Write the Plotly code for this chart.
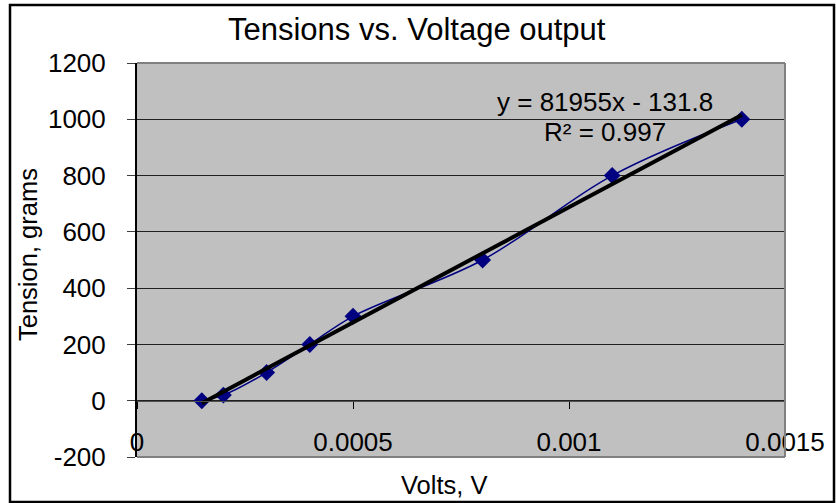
import numpy as np
import plotly.graph_objects as go

# ---- data ----
volts = [0.00015, 0.0002, 0.0003, 0.0004, 0.0005, 0.0008, 0.0011, 0.0014]
tension = [0, 20, 100, 200, 300, 500, 800, 1000]

y_tickvals = [1200, 1000, 800, 600, 400, 200, 0, -200]
y_ticktext = ["1200", "1000", "800", "600", "400", "200", "0", "-200"]
x_tickvals = [0, 0.0005, 0.001, 0.0015]
x_ticktext = ["0", "0.0005", "0.001", "0.0015"]

title_text = "Tensions vs. Voltage output"
x_title = "Volts, V"
y_title = "Tension, grams"
eq_text = "y = 81955x - 131.8"
r2_text = "R² = 0.997"

# linear trendline from the data
slope, intercept = np.polyfit(volts, tension, 1)
trend_x = [min(volts), max(volts)]
trend_y = [slope * v + intercept for v in trend_x]

W, H = 836, 503
L, R, T, B = 137, 785, 63, 457  # plot area in pixels


def px(xp):
    return (xp - L) / (R - L)


def py(yp):
    return (B - yp) / (B - T)


FONT = "Arial, Liberation Sans, sans-serif"

fig = go.Figure()
fig.add_trace(go.Scatter(
    x=volts, y=tension, mode="lines+markers",
    line=dict(color="#000080", width=1.5, shape="spline"),
    marker=dict(symbol="diamond", size=13, color="#000080"),
    cliponaxis=False, showlegend=False,
))
fig.add_trace(go.Scatter(
    x=trend_x, y=trend_y, mode="lines",
    line=dict(color="black", width=4),
    showlegend=False,
))

fig.update_layout(
    width=W, height=H,
    margin=dict(l=L, r=W - R, t=T, b=H - B),
    paper_bgcolor="white", plot_bgcolor="#C0C0C0",
    font=dict(family=FONT, size=26, color="black"),
    showlegend=False,
)

fig.update_xaxes(
    range=[0, 0.0015], tickvals=x_tickvals, ticktext=x_ticktext,
    anchor="free", position=(0 - (-200)) / 1400,
    showgrid=False, zeroline=False,
    showline=True, linecolor="#505050", linewidth=1,
    ticks="outside", ticklen=7, tickcolor="black", tickwidth=1,
    ticklabelstandoff=11,
    tickfont=dict(family=FONT, size=26, color="black"),
)
fig.update_yaxes(
    range=[-200, 1200], tickvals=y_tickvals, ticktext=y_ticktext,
    showgrid=True, gridcolor="#202020", gridwidth=1,
    zeroline=False,
    showline=True, linecolor="black", linewidth=2,
    ticks="outside", ticklen=8, tickcolor="#404040", tickwidth=1,
    ticklabelstandoff=16,
    tickfont=dict(family=FONT, size=26, color="black"),
)

# plot-area border (top, right, bottom)
for x0, y0, x1, y1 in [(0, 1, 1, 1), (1, 0, 1, 1), (0, 0, 1, 0)]:
    fig.add_shape(type="line", xref="x domain", yref="y domain",
                  x0=x0, y0=y0, x1=x1, y1=y1,
                  line=dict(color="#808080", width=2), layer="above")

# chart-area border
fig.add_shape(type="rect", xref="paper", yref="paper",
              x0=px(10), x1=px(834), y0=py(502), y1=py(5),
              line=dict(color="black", width=2.5))

fig.add_annotation(text=title_text, xref="paper", yref="paper",
                   x=px(416.5), y=py(29), xanchor="center", yanchor="middle",
                   showarrow=False, font=dict(family=FONT, size=31, color="black"))
fig.add_annotation(text=x_title, xref="paper", yref="paper",
                   x=px(443.5), y=py(485), xanchor="center", yanchor="middle",
                   showarrow=False, font=dict(family=FONT, size=25.5, color="black"))
fig.add_annotation(text=y_title, xref="paper", yref="paper",
                   x=px(28), y=py(255), xanchor="center", yanchor="middle",
                   textangle=-90,
                   showarrow=False, font=dict(family=FONT, size=25.5, color="black"))
fig.add_annotation(text=eq_text, xref="paper", yref="paper",
                   x=px(604.5), y=py(102), xanchor="center", yanchor="middle",
                   showarrow=False, font=dict(family=FONT, size=26, color="black"))
fig.add_annotation(text=r2_text, xref="paper", yref="paper",
                   x=px(605), y=py(132), xanchor="center", yanchor="middle",
                   showarrow=False, font=dict(family=FONT, size=26, color="black"))

fig.write_html("out.html",
               config={"displayModeBar": False},
               post_script="document.body.style.margin='0';"
                           "document.body.style.overflow='hidden';")
